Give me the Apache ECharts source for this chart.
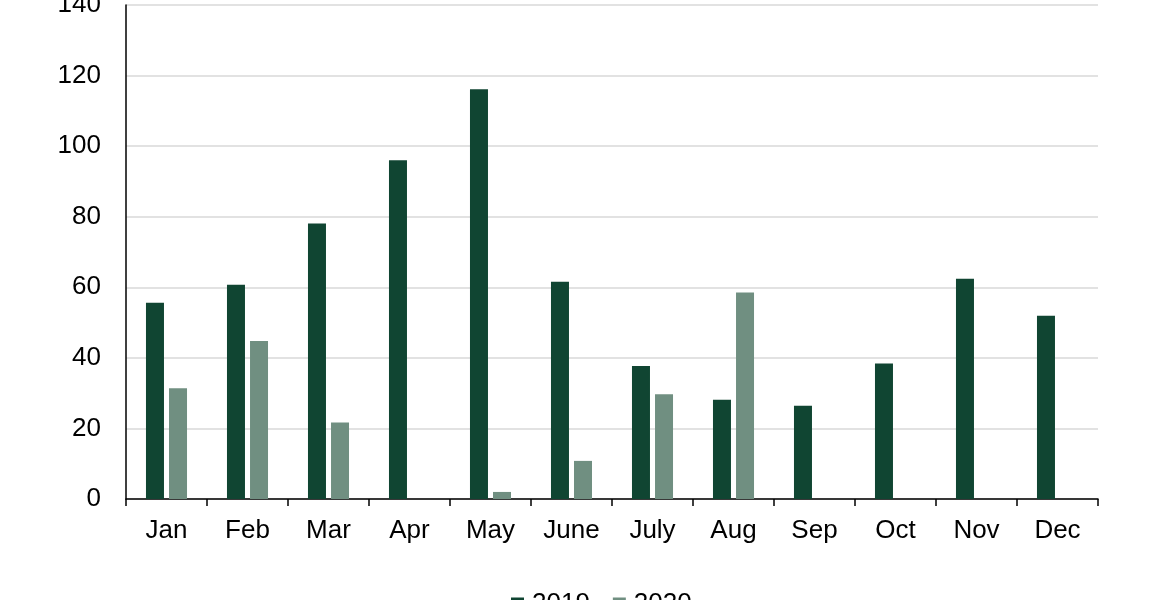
<!DOCTYPE html>
<html>
<head>
<meta charset="utf-8">
<script src="https://cdn.jsdelivr.net/npm/echarts@6/dist/echarts.min.js"></script>
<style>html,body{margin:0;padding:0;background:#fff}#c{width:1170px;height:600px}</style>
</head>
<body>
<div id="c"></div>
<script>
const categories = ['Jan','Feb','Mar','Apr','May','June','July','Aug','Sep','Oct','Nov','Dec'];
const values2019 = [55.6, 60.7, 78.1, 96.0, 116.1, 61.6, 37.7, 28.1, 26.4, 38.4, 62.4, 51.9];
const values2020 = [31.4, 44.8, 21.7, null, 2.0, 10.8, 29.7, 58.5, null, null, null, null];
const seriesNames = ['2019', '2020'];
const yTicks = {min: 0, max: 140, interval: 20};

const chart = echarts.init(document.getElementById('c'), null, {renderer: 'canvas'});
const font = 'Liberation Sans, Arial, sans-serif';
chart.setOption({
  animation: false,
  backgroundColor: '#ffffff',
  grid: {left: 126, right: 72, top: 5, bottom: 101, containLabel: false, outerBoundsMode: 'none'},
  legend: {
    data: seriesNames,
    top: 591,
    left: 511,
    padding: 0,
    itemWidth: 13,
    itemHeight: 13,
    itemGap: 23,
    icon: 'rect',
    textStyle: {fontFamily: font, fontSize: 26, color: '#000', padding: [0, 0, 0, 3]}
  },
  xAxis: {
    type: 'category',
    data: categories,
    axisLine: {lineStyle: {color: '#000', width: 1.5}},
    axisTick: {show: true, length: 7, lineStyle: {color: '#000', width: 1.5}},
    axisLabel: {fontFamily: font, fontSize: 26, color: '#000', margin: 19},
    splitLine: {show: false}
  },
  yAxis: {
    type: 'value',
    min: yTicks.min, max: yTicks.max, interval: yTicks.interval,
    axisLine: {show: true, lineStyle: {color: '#000', width: 1.5}},
    axisTick: {show: false},
    axisLabel: {fontFamily: font, fontSize: 26, color: '#000', margin: 25},
    splitLine: {lineStyle: {color: '#d9d9d9', width: 1.5}}
  },
  series: [
    {name: seriesNames[0], type: 'bar', data: values2019, barWidth: 18, barGap: '28%',
     itemStyle: {color: '#104532'}},
    {name: seriesNames[1], type: 'bar', data: values2020, barWidth: 18, barGap: '28%',
     itemStyle: {color: '#708f81'}}
  ]
});
</script>
</body>
</html>
